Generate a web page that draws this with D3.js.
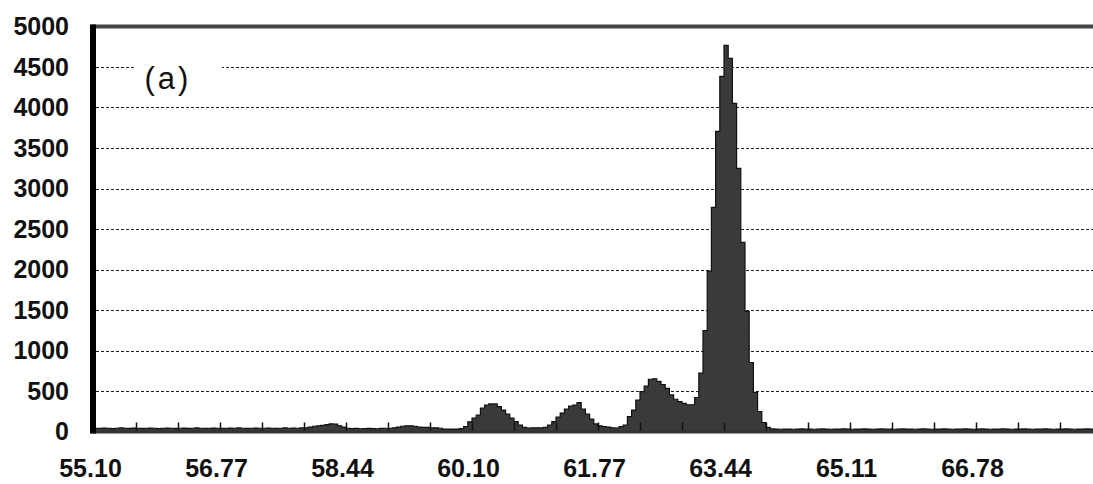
<!doctype html>
<html>
    <head>
        <title>Histogram (a)</title>
        <style>
            body {
                margin: 0;
                overflow: hidden;
                background: #fff;
            }
            text {
                font-family: "Liberation Sans", Arial, sans-serif;
            }
        </style>
    </head>
    <body>
        <script src="https://cdn.jsdelivr.net/npm/d3@7"></script>
        <script>

            // bins start at 55.10, 30 bins per labelled step of ~1.67
            const binStart = 55.10;
            const binWidth = (66.78 - 55.10) / 210;

            const counts = [
                40, 38, 42, 40, 36, 40, 44, 40, 38, 42, 40, 38, 40, 42, 40, 36, 40, 42, 40, 38,
                40, 42, 38, 40, 44, 40, 38, 40, 42, 40, 38, 40, 42, 40, 44, 40, 38, 40, 42, 40,
                40, 42, 40, 38, 40, 44, 40, 42, 40, 44,
                45, 55, 65, 70, 75, 85, 95, 90, 70, 55,
                40, 36, 38, 34, 36, 38, 36, 34, 38, 40,
                40, 45, 55, 65, 70, 70, 65, 55, 50, 50,
                45, 45, 40, 30, 30, 30, 30, 35, 60, 120,
                166, 204, 290, 327, 340, 340, 306, 265, 216, 166,
                121, 80, 50, 43, 45, 45, 45, 50, 80, 121,
                179, 228, 278, 315, 327, 356, 278, 216, 154, 93,
                70, 60, 55, 45, 43, 60, 80, 183, 265, 389,
                492, 562, 645, 650, 620, 580, 533, 451, 398, 368,
                348, 330, 330, 420, 722, 1245, 1980, 2766, 3705, 4385,
                4767, 4607, 4050, 3248, 2334, 1482, 852, 482, 247, 111,
                50, 32, 30, 28, 30, 30, 28, 30, 32, 30,
                30, 28, 30, 32, 30, 28, 30, 30, 32, 30, 28, 30, 30, 32, 30, 28, 30, 32, 30, 30,
                28, 30, 32, 30, 30, 28, 30, 32, 30, 28, 30, 30, 32, 30, 28, 30, 30, 32, 30, 28,
                30, 32, 30, 28, 30, 30, 32, 30, 28, 30, 30, 32, 30, 28, 30, 30, 32, 30, 28, 30,
                30, 32, 30, 28, 30, 30, 32, 30, 28, 30
            ];

            const yTicks = [0, 500, 1000, 1500, 2000, 2500, 3000, 3500, 4000, 4500, 5000];
            const xLabels = ['55.10', '56.77', '58.44', '60.10', '61.77', '63.44', '65.11', '66.78'];
            const panelLabel = '(a)';

            const width = 1093;
            const height = 484;
            const left = 93;
            const binPx = 4.2;

            const svg = d3.select('body')
                .append('svg')
                .attr('width', width)
                .attr('height', height);

            const x = d3.scaleLinear()
                .domain([binStart, binStart + counts.length * binWidth])
                .range([left + 1, left + 1 + counts.length * binPx]);

            const y = d3.scaleLinear()
                .domain([0, 5000])
                .range([431.5, 26.5]);

            // dotted grid
            svg.append('g')
                .selectAll('line')
                .data(yTicks.filter((d) => d > 0 && d < 5000))
                .join('line')
                .attr('x1', left + 3)
                .attr('x2', width)
                .attr('y1', (d) => Math.round(y(d)) + 0.5)
                .attr('y2', (d) => Math.round(y(d)) + 0.5)
                .attr('stroke', '#222')
                .attr('stroke-width', 1)
                .attr('stroke-dasharray', '3,2');

            // histogram outline as step area
            const pts = counts.map((c, i) => [binStart + i * binWidth, c]);
            pts.push([binStart + counts.length * binWidth, counts[counts.length - 1]]);

            const area = d3.area()
                .x((d) => x(d[0]))
                .y0(y(0))
                .y1((d) => y(d[1]))
                .curve(d3.curveStepAfter);

            const line = d3.line()
                .x((d) => x(d[0]))
                .y((d) => y(d[1]))
                .curve(d3.curveStepAfter);

            svg.append('path')
                .datum(pts)
                .attr('d', area)
                .attr('fill', '#3a3a3a');

            svg.append('path')
                .datum(pts)
                .attr('d', line)
                .attr('fill', 'none')
                .attr('stroke', '#111')
                .attr('stroke-width', 1.2);

            // minor ticks every 10 bins
            const minor = d3.range(10, counts.length, 10).map((i) => binStart + i * binWidth);
            svg.append('g')
                .selectAll('line')
                .data(minor)
                .join('line')
                .attr('x1', (d) => Math.round(x(d)) + 0.5)
                .attr('x2', (d) => Math.round(x(d)) + 0.5)
                .attr('y1', y(0))
                .attr('y2', y(0) - 9)
                .attr('stroke', '#111')
                .attr('stroke-width', 1.5);

            // frame: top border, thick left axis, bottom axis
            svg.append('line')
                .attr('x1', left - 2).attr('x2', width)
                .attr('y1', y(5000)).attr('y2', y(5000))
                .attr('stroke', '#444').attr('stroke-width', 4);

            svg.append('line')
                .attr('x1', left - 2).attr('x2', width)
                .attr('y1', y(0) + 0.5).attr('y2', y(0) + 0.5)
                .attr('stroke', '#333').attr('stroke-width', 3);

            svg.append('line')
                .attr('x1', left).attr('x2', left)
                .attr('y1', y(5000) - 2).attr('y2', y(0) + 2)
                .attr('stroke', '#000').attr('stroke-width', 6);

            // y labels
            const yAxis = d3.axisLeft(y)
                .tickValues(yTicks)
                .tickSize(0)
                .tickPadding(0)
                .tickFormat(d3.format('d'));

            svg.append('g')
                .attr('transform', 'translate(69,0)')
                .call(yAxis)
                .call((g) => g.select('.domain').remove())
                .selectAll('text')
                .attr('font-family', '"Liberation Sans", Arial, sans-serif')
                .attr('font-size', 25)
                .attr('font-weight', 'bold')
                .attr('fill', '#111');

            // x labels
            const xAxis = d3.axisBottom(x)
                .tickValues(xLabels.map((d, i) => binStart + i * 30 * binWidth))
                .tickSize(0)
                .tickPadding(0)
                .tickFormat((d, i) => xLabels[i]);

            svg.append('g')
                .attr('transform', 'translate(-4,459)')
                .call(xAxis)
                .call((g) => g.select('.domain').remove())
                .selectAll('text')
                .attr('font-family', '"Liberation Sans", Arial, sans-serif')
                .attr('font-size', 25)
                .attr('font-weight', 'bold')
                .attr('fill', '#111');

            // panel label over the 4500 gridline
            svg.append('rect')
                .attr('x', 134)
                .attr('y', 56)
                .attr('width', 88)
                .attr('height', 40)
                .attr('fill', '#fff');

            svg.append('text')
                .attr('x', 168)
                .attr('y', 89)
                .attr('text-anchor', 'middle')
                .attr('font-size', 31)
                .attr('letter-spacing', 3)
                .attr('fill', '#111')
                .text(panelLabel);

        </script>
    </body>
</html>
